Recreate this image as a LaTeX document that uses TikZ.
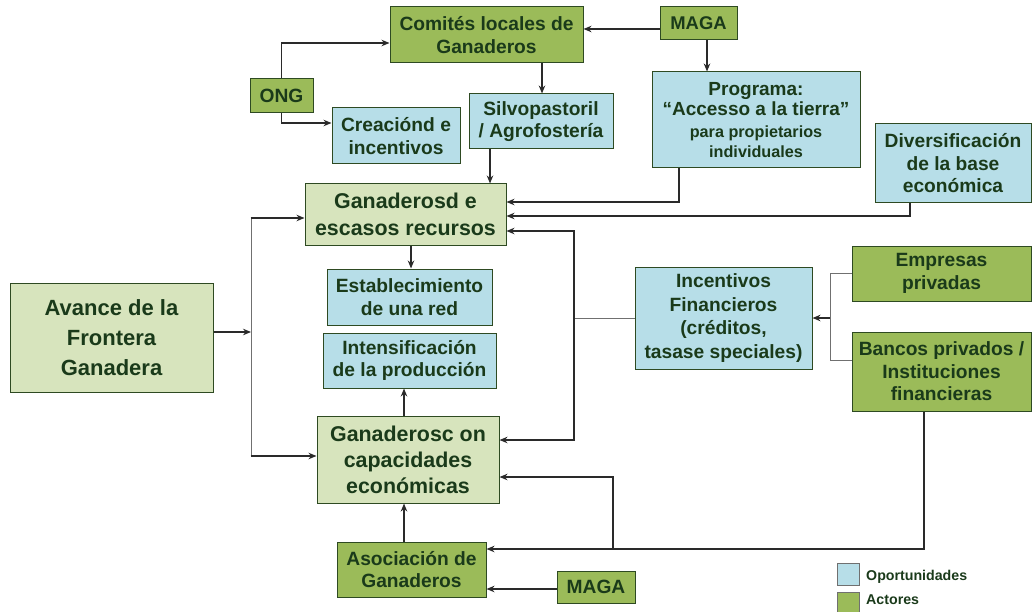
\documentclass[tikz,border=0pt]{standalone}
\usepackage{fontspec}
\setmainfont{Liberation Sans}[BoldFont={Liberation Sans Bold}]
\usetikzlibrary{arrows.meta}
\definecolor{actor}{HTML}{9BBB59}
\definecolor{light}{HTML}{D7E4BD}
\definecolor{opp}{HTML}{B7DEE8}
\definecolor{edge}{HTML}{2E4A22}
\definecolor{txt}{HTML}{1A3A1A}
\definecolor{ln}{HTML}{2A2A2A}
\definecolor{gln}{HTML}{707070}
\tikzset{
  box/.style={draw=edge, line width=1pt, inner sep=0pt, align=center, text=txt,
     font=\bfseries\fontsize{19.2}{22.5}\selectfont},
  actorbox/.style={box, fill=actor},
  lightbox/.style={box, fill=light, font=\bfseries\fontsize{21.4}{27}\selectfont},
  oppbox/.style={box, fill=opp},
  arr/.style={draw=ln, line width=1.3pt, -{Stealth[length=8pt,width=6.5pt]}},
  plain/.style={draw=ln, line width=1.3pt},
  thin/.style={draw=gln, line width=0.9pt},
  legtext/.style={font=\bfseries\fontsize{14.2}{16}\selectfont, text=txt, anchor=west, inner sep=0pt}
}
\begin{document}
\begin{tikzpicture}[x=1pt,y=-1pt]
\useasboundingbox (0,0) rectangle (1032,612);
% nodes
\node[actorbox, minimum width=193pt, minimum height=56pt] (comites) at (486.5,35) {Comités locales de\\Ganaderos};
\node[actorbox, minimum width=77pt, minimum height=33pt, font=\bfseries\fontsize{18.4}{22}\selectfont] (maga1) at (698.5,23.5) {MAGA};
\node[actorbox, minimum width=63pt, minimum height=34pt] (ong) at (281.5,96) {ONG};
\node[oppbox, minimum width=128pt, minimum height=56pt] (creacion) at (396,136) {Creaciónd e\\incentivos};
\node[oppbox, minimum width=144pt, minimum height=55pt] (silvo) at (541,121.5) {Silvopastoril\\/ Agrofostería};
\node[oppbox, minimum width=208pt, minimum height=96pt, font=\bfseries\fontsize{19}{20}\selectfont] (programa) at (756,120) {Programa:\\“Accesso a la tierra”\\[2pt]{\fontsize{16.2}{19.5}\selectfont para propietarios}\\{\fontsize{16.2}{19.5}\selectfont individuales}};
\node[oppbox, minimum width=156pt, minimum height=79pt] (divers) at (953,163.5) {Diversificación\\de la base\\económica};
\node[lightbox, minimum width=201pt, minimum height=61pt] (gd) at (405.5,214.5) {Ganaderosd e\\escasos recursos};
\node[oppbox, minimum width=165pt, minimum height=56pt] (estab) at (409.5,297) {Establecimiento\\de una red};
\node[oppbox, minimum width=173pt, minimum height=55pt] (intens) at (409.5,360.5) {Intensificación\\de la producción};
\node[lightbox, minimum width=203pt, minimum height=109pt, font=\bfseries\fontsize{22}{30}\selectfont] (avance) at (111.5,337.5) {Avance de la\\Frontera\\Ganadera};
\node[lightbox, minimum width=182pt, minimum height=87pt, font=\bfseries\fontsize{21.4}{26}\selectfont] (gc) at (408,459.5) {Ganaderosc on\\capacidades\\económicas};
\node[actorbox, minimum width=149pt, minimum height=55pt] (asoc) at (411.5,569.5) {Asociación de\\Ganaderos};
\node[actorbox, minimum width=78pt, minimum height=32pt] (maga2) at (596,587) {MAGA};
\node[oppbox, minimum width=177pt, minimum height=102pt, font=\bfseries\fontsize{19.2}{23.5}\selectfont] (incent) at (723.5,318) {Incentivos\\Financieros\\(créditos,\\tasase speciales)};
\node[actorbox, minimum width=179pt, minimum height=55pt] (empresas) at (941.5,273.5) {Empresas\\privadas};
\node[actorbox, minimum width=179pt, minimum height=79pt] (bancos) at (941.5,371.5) {Bancos privados /\\Instituciones\\financieras};
% legend
\node[draw=gln, line width=0.8pt, fill=opp, minimum width=22pt, minimum height=22pt, inner sep=0pt] (lopp) at (848,574) {};
\node[draw=gln, line width=0.8pt, fill=actor, minimum width=22pt, minimum height=22pt, inner sep=0pt] (lact) at (848,603) {};
\node[legtext] (toppo) at (866,576.5) {Oportunidades};
\node[legtext] (tact) at (866,599.5) {Actores};
% coordinates
\coordinate (bus) at (251,332);
\coordinate (j1) at (574,318);
\coordinate (j2) at (830,318);
\coordinate (j3) at (613,549);
% connectors
\draw[arr] (ong.north) |- ([yshift=-8pt]comites.west);
\draw[arr] (ong.south) |- ([yshift=13pt]creacion.west);
\draw[arr] ([yshift=-5.5pt]maga1.west) -- ([yshift=-5.5pt]maga1.west -| comites.east);
\draw[arr] ([xshift=8.5pt]maga1.south) -- ([xshift=8.5pt]maga1.south |- programa.north);
\draw[arr] ([xshift=1pt]silvo.north |- comites.south) -- ([xshift=1pt]silvo.north);
\draw[arr] ([xshift=-51pt]silvo.south) -- ([xshift=-51pt]silvo.south |- gd.north);
\draw[arr] ([xshift=-77pt]programa.south) |- ([yshift=12.5pt]gd.east);
\draw[arr] ([xshift=-43pt]divers.south) |- ([yshift=-1.5pt]gd.east);
\draw[thin] (incent.west) -- (j1);
\draw[arr] (j1) |- ([yshift=-16.5pt]gd.east);
\draw[arr] (j1) |- ([yshift=19.5pt]gc.east);
\draw[arr] (avance.east |- bus) -- (bus);
\draw[thin] (bus) |- ([xshift=-54pt,yshift=-3.5pt]gd.west);
\draw[arr] ([xshift=-54pt,yshift=-3.5pt]gd.west) -- ([yshift=-3.5pt]gd.west);
\draw[thin] (bus) |- ([xshift=-66pt,yshift=3.5pt]gc.west);
\draw[arr] ([xshift=-66pt,yshift=3.5pt]gc.west) -- ([yshift=3.5pt]gc.west);
\draw[arr] ([xshift=1.5pt]estab.north |- gd.south) -- ([xshift=1.5pt]estab.north);
\draw[arr] ([xshift=-4pt]gc.north) -- ([xshift=-4pt]gc.north |- intens.south);
\draw[arr] ([xshift=-7.5pt]asoc.north) -- ([xshift=-7.5pt]asoc.north |- gc.south);
\draw[arr] ([yshift=-2pt]maga2.west) -- ([yshift=-2pt]maga2.west -| asoc.east);
\draw[plain] ([xshift=-17.5pt]bancos.south) |- (j3);
\draw[arr] (j3) -- (j3 -| asoc.east);
\draw[arr] (j3) |- ([yshift=-17.5pt]gc.east);
\draw[thin] ([yshift=0.5pt]empresas.west) -| (j2);
\draw[thin] ([yshift=11.5pt]bancos.west) -| (j2);
\draw[arr] (j2) -- (incent.east);
\end{tikzpicture}
\end{document}
